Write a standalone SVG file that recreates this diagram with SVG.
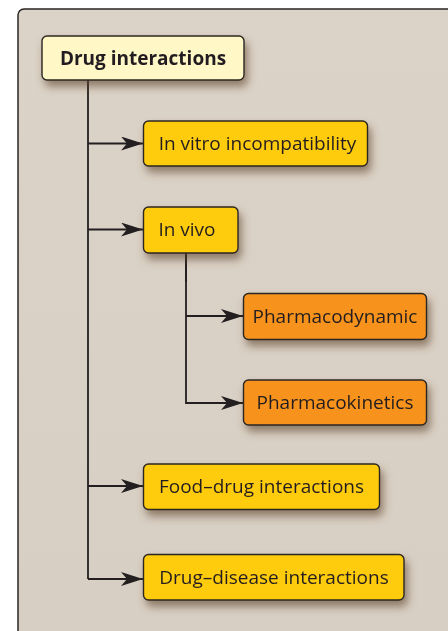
<svg xmlns="http://www.w3.org/2000/svg" width="448" height="631" viewBox="0 0 448 631">
  <defs>
    <linearGradient id="panelFill" x1="0" y1="0" x2="0" y2="1">
      <stop offset="0" stop-color="#dcd3c8"/>
      <stop offset="1" stop-color="#d8cfc4"/>
    </linearGradient>
    <filter id="shadow" x="-20%" y="-30%" width="150%" height="200%">
      <feDropShadow dx="3" dy="6" stdDeviation="4" flood-color="#5a4226" flood-opacity="0.6"/>
    </filter>
    <marker id="arrow" viewBox="0 0 22 14" refX="22" refY="7" markerWidth="22" markerHeight="14" markerUnits="userSpaceOnUse" orient="auto">
      <path d="M0,0 L22,7 L0,14 L6,7 Z" fill="#231f20"/>
    </marker>
  </defs>
  <style>
    .box { stroke: #2b2622; stroke-width: 1.4; }
    .root { fill: #fff8c6; }
    .main { fill: #ffcb0c; }
    .sub { fill: #f7921e; }
    .label { font-family: "Open Sans", "Noto Sans", "Liberation Sans", sans-serif; font-size: 19px; fill: #231f20; text-anchor: middle; }
    .bold { font-weight: bold; }
    .link { fill: none; stroke: #231f20; stroke-width: 1.8; }
  </style>

  <!-- background panel -->
  <rect x="18" y="9" width="440" height="640" rx="6" fill="url(#panelFill)" stroke="#2b2622" stroke-width="1.5"/>

  <!-- connectors -->
  <g id="connectors">
    <path class="link" d="M88,80 V579"/>
    <path class="link" d="M88,143.5 H143" marker-end="url(#arrow)"/>
    <path class="link" d="M88,229.5 H143" marker-end="url(#arrow)"/>
    <path class="link" d="M88,486 H143" marker-end="url(#arrow)"/>
    <path class="link" d="M88,579 H143" marker-end="url(#arrow)"/>
    <path class="link" d="M186,253 V403 H243" marker-end="url(#arrow)"/>
    <path class="link" d="M186,253 V282" stroke-width="3"/>
    <path class="link" d="M186,316 H243" marker-end="url(#arrow)"/>
  </g>

  <g id="drug-interactions" filter="url(#shadow)">
    <rect class="box root" x="42" y="36" width="202" height="44" rx="5"/>
    <text class="label bold" x="143" y="64.5">Drug interactions</text>
  </g>

  <g id="in-vitro" filter="url(#shadow)">
    <rect class="box main" x="143.5" y="121" width="224" height="45" rx="5"/>
    <text class="label" x="257.5" y="150">In vitro incompatibility</text>
  </g>

  <g id="in-vivo" filter="url(#shadow)">
    <rect class="box main" x="143.5" y="207" width="94.5" height="46" rx="5"/>
    <text class="label" x="187" y="236">In vivo</text>
  </g>

  <g id="pharmacodynamic" filter="url(#shadow)">
    <rect class="box sub" x="243.5" y="293.5" width="183" height="46" rx="5"/>
    <text class="label" x="335" y="322.5">Pharmacodynamic</text>
  </g>

  <g id="pharmacokinetics" filter="url(#shadow)">
    <rect class="box sub" x="243.5" y="380" width="183" height="45" rx="5"/>
    <text class="label" x="335" y="409">Pharmacokinetics</text>
  </g>

  <g id="food-drug" filter="url(#shadow)">
    <rect class="box main" x="143.5" y="464" width="236" height="45.5" rx="5"/>
    <text class="label" x="261.5" y="492.5">Food–drug interactions</text>
  </g>

  <g id="drug-disease" filter="url(#shadow)">
    <rect class="box main" x="143.5" y="554.5" width="260.5" height="45.5" rx="5"/>
    <text class="label" x="274" y="583.5">Drug–disease interactions</text>
  </g>
</svg>
